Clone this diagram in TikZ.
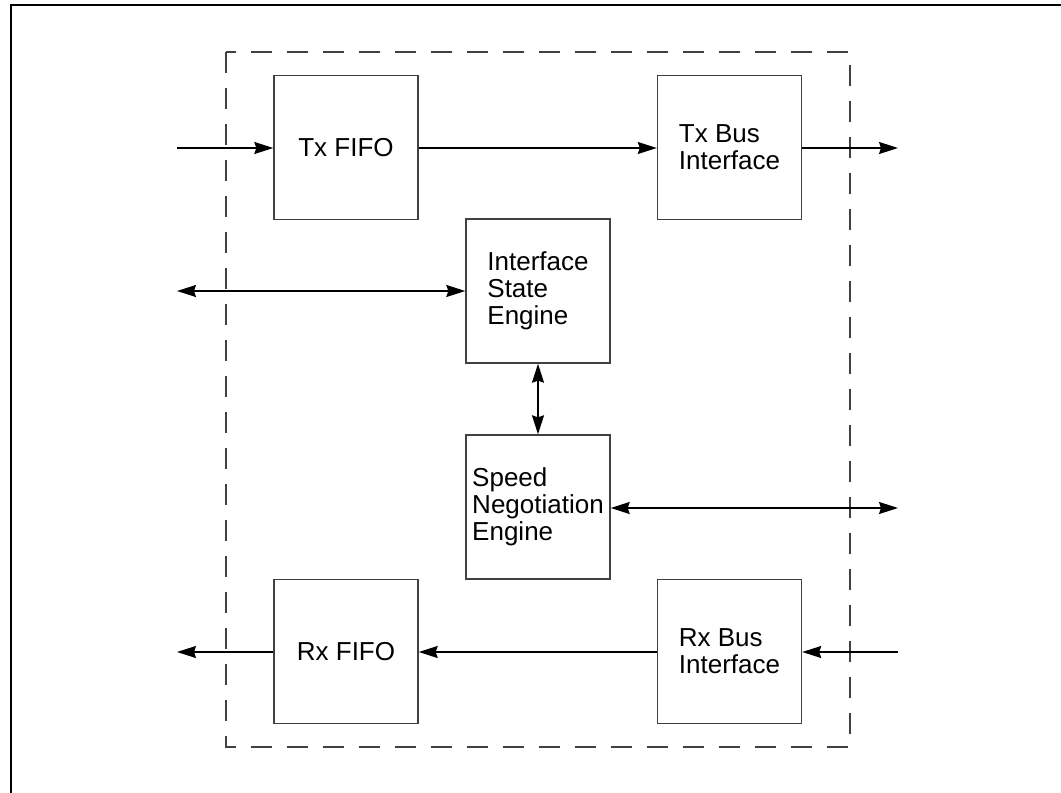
\documentclass[tikz,border=0pt]{standalone}
\usepackage{fontspec}
\setmainfont{Liberation Sans}
\usetikzlibrary{arrows.meta}
\begin{document}
\begin{tikzpicture}[x=1pt,y=-1pt,
  blk/.style={draw=black!75, line width=1.4pt, minimum width=144pt, minimum height=144pt,
    inner sep=0pt, align=left, font=\fontsize{26}{27}\selectfont},
  conn/.style={line width=1.3pt, -{Stealth[inset=2pt,length=19pt,width=12pt]}},
  dconn/.style={line width=1.3pt, {Stealth[inset=2pt,length=19pt,width=12pt]}-{Stealth[inset=2pt,length=19pt,width=12pt]}}]
\useasboundingbox (0,0) rectangle (1061,793);
% frame
\draw[line width=2.8pt] (1061,5) -- (11,5) -- (11,793);
% dashed boundary
\draw[draw=black!75, line width=1.5pt, dash pattern=on 21pt off 15pt] (226,52) rectangle (850,747);
% blocks
\node[blk] (txf) at (346,147.5) {Tx FIFO};
\node[blk] (txb) at (729.5,147.5) {Tx Bus\\Interface};
\node[blk] (ise) at (538,291) {Interface\\State\\Engine};
\node[blk] (sne) at (538,507) {Speed\\Negotiation\\Engine};
\node[blk] (rxf) at (346,651.5) {Rx FIFO};
\node[blk] (rxb) at (729.5,651.5) {Rx Bus\\Interface};
% free ends
\coordinate (txin) at (177,148);
\coordinate (txout) at (898,148);
\coordinate (iseL) at (177,291);
\coordinate (sneR) at (898,508);
\coordinate (rxin) at (898,652);
\coordinate (rxout) at (177,652);
% connectors
\draw[conn] (txin) -- (txf.west |- txin);
\draw[conn] (txf.east |- txin) -- (txb.west |- txin);
\draw[conn] (txb.east |- txout) -- (txout);
\draw[dconn] (iseL) -- (ise.west |- iseL);
\draw[dconn] (ise.south) -- (sne.north);
\draw[dconn] (sne.east |- sneR) -- (sneR);
\draw[conn] (rxin) -- (rxb.east |- rxin);
\draw[conn] (rxb.west |- rxin) -- (rxf.east |- rxin);
\draw[conn] (rxf.west |- rxout) -- (rxout);
\end{tikzpicture}
\end{document}
